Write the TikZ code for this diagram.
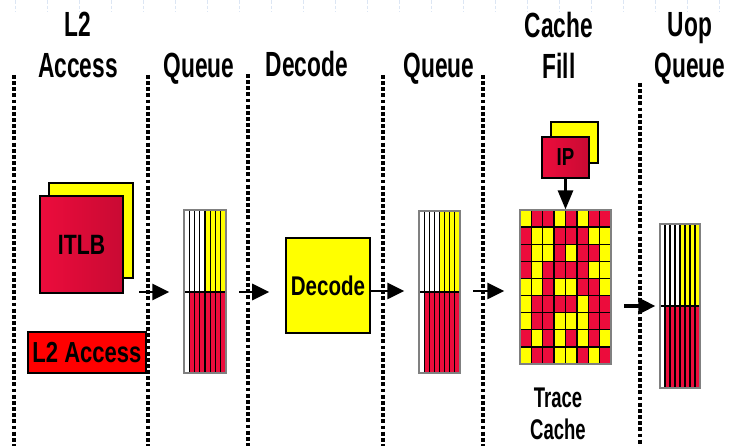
\documentclass[tikz,border=0pt]{standalone}
\usepackage{fontspec}
\setmainfont{Liberation Sans}
\newfontfamily\headfont[FakeStretch=0.65]{Liberation Sans}
\newfontfamily\boxfont[FakeStretch=0.76]{Liberation Sans}
\usetikzlibrary{arrows.meta,calc}
\definecolor{tcR}{HTML}{EC0C3C}
\definecolor{tcY}{HTML}{FFFF00}
\definecolor{l2red}{HTML}{FF0000}
\definecolor{gridblue}{HTML}{DCE6F4}
\tikzset{
  stage/.style={font=\headfont\bfseries\fontsize{19.9}{23.3}\selectfont,
    align=center, anchor=south, inner sep=0pt, text depth=0pt},
  boundary/.style={line width=2.2pt, dash pattern=on 2.2pt off 1.3pt},
  flow/.style={line width=1.6pt, -{Triangle[length=0.34cm,width=0.32cm]}},
  chip/.style={draw=black, line width=0.9pt, left color=tcR,
    right color=tcR!85!black, inner sep=0pt},
  backchip/.style={draw=black, line width=0.9pt, fill=tcY, inner sep=0pt},
  stripe/.style={black, line width=0.7pt},
}
\begin{document}
\begin{tikzpicture}[x=0.02cm, y=-0.02cm]
  \useasboundingbox (0,0) rectangle (735,446);
  % faint slide grid at the top
  \foreach \x in {15,47,...,719}
    \draw[gridblue, line width=0.5pt, dash pattern=on 2pt off 1.2pt] (\x,0) -- (\x,12);
  % stage boundaries
  \foreach \x/\y in {14/75, 148/75, 248/74, 383/75, 483/75, 640/83}
    \draw[boundary] (\x,\y) -- (\x,446);
  % stage titles
  \node[stage] (tl2) at (78,78) {L2\\Access};
  \node[stage] (tqa) at (199,78) {Queue};
  \node[stage] (tdec) at (307,77) {Decode};
  \node[stage] (tqb) at (439,78) {Queue};
  \node[stage] (tfill) at (559,79) {Cache\\Fill};
  \node[stage] (tuq) at (690,78) {Uop\\Queue};
  % L2 access stage
  \node[backchip, minimum width=1.68cm, minimum height=1.9cm] (itlbback) at (91,230.5) {};
  \node[chip, minimum width=1.66cm, minimum height=1.94cm,
    font=\boxfont\bfseries\fontsize{15.9}{18}\selectfont] (itlb) at (81.5,244.5) {ITLB};
  \node[draw=black, line width=0.9pt, fill=l2red, inner sep=0pt,
    minimum width=2.36cm, minimum height=0.82cm,
    font=\boxfont\bfseries\fontsize{16.5}{19}\selectfont] (l2acc) at (87,352.5) {L2 Access};
  % queues
  \foreach \nm/\xa/\ya/\ym/\yb/\w in {qa/184/210/292/373/42, qb/419/211/292/373/41, uq/660/224/306/388/40} {
    \fill[white] (\xa,\ya) rectangle (\xa+\w/2,\ym);
    \fill[tcY] (\xa+\w/2,\ya) rectangle (\xa+\w,\ym);
    \fill[white] (\xa,\ym) rectangle (\xa+\w/8,\yb);
    \fill[tcR] (\xa+\w/8,\ym) rectangle (\xa+\w,\yb);
    \foreach \k in {1,...,7}
      \draw[stripe] (\xa+\k*\w/8,\ya) -- (\xa+\k*\w/8,\yb);
    \draw[black, line width=1.4pt] (\xa,\ym) -- (\xa+\w,\ym);
    \node[draw=gray, line width=0.7pt, inner sep=0pt, minimum width=\w*0.02cm,
      minimum height={(\yb-\ya)*0.02cm}] (\nm) at (\xa+\w/2,{(\ya+\yb)/2}) {};
  }
  % decode stage
  \node[draw=black, line width=0.9pt, fill=tcY, inner sep=0pt,
    minimum width=1.68cm, minimum height=1.9cm,
    font=\boxfont\bfseries\fontsize{15.4}{18}\selectfont] (dec) at (328,285.5) {Decode};
  % trace cache
  \foreach \row [count=\r from 0] in {{Y,R,R,Y,R,Y,R,R},{R,Y,Y,R,R,R,Y,Y},{R,Y,Y,R,Y,R,R,Y},
      {R,Y,R,R,R,R,Y,Y},{Y,Y,R,Y,Y,R,R,Y},{Y,R,R,R,R,Y,R,R},{Y,R,R,Y,Y,Y,R,R},
      {R,Y,R,Y,R,Y,R,Y},{Y,R,R,Y,Y,R,Y,R}} {
    \foreach \c [count=\k from 0] in \row
      \filldraw[fill=tc\c, draw=black, line width=0.8pt]
        (520+\k*11.375,210+\r*17.11) rectangle ++(11.375,17.11);
  }
  \node[draw=gray, line width=0.7pt, inner sep=0pt, minimum width=1.82cm,
    minimum height=3.08cm] (tc) at (565.5,287) {};
  \node[stage, font=\headfont\bfseries\fontsize{16.2}{18.2}\selectfont] (tclabel) at (558,440) {Trace\\Cache};
  \node[backchip, minimum width=0.94cm, minimum height=0.82cm] (ipback) at (574.5,142.5) {};
  \node[chip, minimum width=0.94cm, minimum height=0.82cm,
    font=\boxfont\bfseries\fontsize{14}{16}\selectfont] (ip) at (565.5,157.5) {IP};
  % flow between stages
  \draw[flow] ([shift={(-44,0.5)}]qa.west) -- ([shift={(-14,0.5)}]qa.west);
  \draw[flow] ([shift={(-46,6.5)}]dec.west) -- ([shift={(-16,6.5)}]dec.west);
  \draw[flow] ([shift={(-47,-1)}]qb.west) -- ([shift={(-14,-1)}]qb.west);
  \draw[flow] ([shift={(-46,4)}]tc.west) -- ([shift={(-15,4)}]tc.west);
  \draw[flow, line width=2.2pt] ([shift={(-35,0)}]uq.west) -- ([shift={(-4,0)}]uq.west);
  \draw[flow, -{Triangle[length=0.38cm,width=0.3cm]}] (ip.south) -- (ip.south |- tc.north);
\end{tikzpicture}
\end{document}
